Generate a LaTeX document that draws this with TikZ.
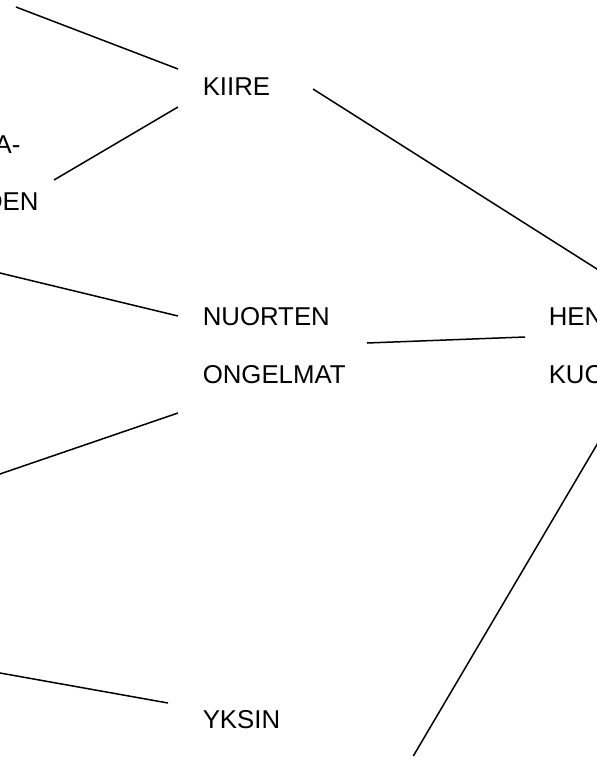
\documentclass[tikz,border=0pt]{standalone}
\usepackage{fontspec}
\setmainfont{Liberation Sans}
\usetikzlibrary{positioning}

\begin{document}
\begin{tikzpicture}[x=1pt,y=-1pt,line width=1.5pt,node distance=57.5pt,
    word/.style={inner sep=0pt,anchor=base west,font=\fontsize{25.8}{31}\selectfont}]
    \useasboundingbox (0,0) rectangle (597,758);
    \clip (0,0) rectangle (597,758);

    \node[word]                  (kiire)    at (202,95.7)  {KIIRE};
    \node[word,anchor=base east] (lefta)    at (21.1,153.2) {A-};
    \node[word,anchor=base east] (leftden)  at (39.3,210.7) {DEN};
    \node[word]                  (nuorten)  at (202,325.7) {NUORTEN};
    \node[word,below=of nuorten.base west,anchor=base west] (ongelmat) {ONGELMAT};
    \node[word]                  (hen)      at (548,325.7) {HEN};
    \node[word,below=of hen.base west,anchor=base west]     (kuc)      {KUC};
    \node[word]                  (yksin)    at (202,728.2) {YKSIN};

    % line ends
    \coordinate (k1) at (178,69);
    \coordinate (k2) at (178,107);
    \coordinate (k3) at (313,89);
    \coordinate (d1) at (54,180);
    \coordinate (n1) at (178,316);
    \coordinate (n2) at (367,343);
    \coordinate (h1) at (525,337);
    \coordinate (o1) at (178,413);
    \coordinate (y1) at (168,703);
    \coordinate (top)   at (16,7);
    \coordinate (left1) at (-10,270.6);
    \coordinate (left2) at (-10,477.4);
    \coordinate (left3) at (-10,671.2);
    \coordinate (right1) at (620,283.6);
    \coordinate (right2) at (620,405.5);
    \coordinate (bottom) at (413.3,756);

    \draw (top) -- (k1);
    \draw (d1) -- (k2);
    \draw (k3) -- (right1);
    \draw (left1) -- (n1);
    \draw (n2) -- (h1);
    \draw (left2) -- (o1);
    \draw (left3) -- (y1);
    \draw (right2) -- (bottom);
\end{tikzpicture}
\end{document}
